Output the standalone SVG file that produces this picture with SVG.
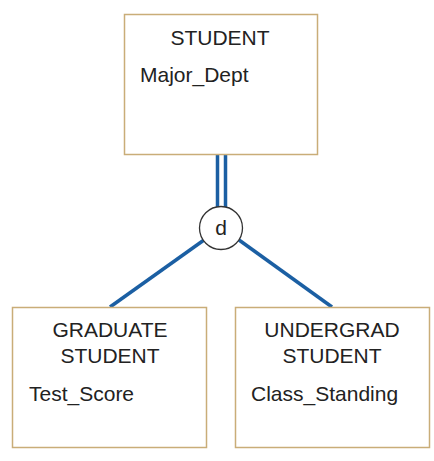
<svg xmlns="http://www.w3.org/2000/svg" width="434" height="461" viewBox="0 0 434 461">
<style>
.box{fill:#fff;stroke:#c9ad78;stroke-width:1.5}
.t{font-family:"Liberation Sans",Arial,sans-serif;font-size:21px;fill:#222}
.c{text-anchor:middle}
.ln{stroke:#1b5fa3;stroke-width:3.5;fill:none}
</style>
<rect width="434" height="461" fill="#fff"/>
<g id="connectors">
<line class="ln" x1="217.5" y1="154" x2="217.5" y2="208"/>
<line class="ln" x1="225.5" y1="154" x2="225.5" y2="208"/>
<line class="ln" x1="204" y1="240" x2="110" y2="307"/>
<line class="ln" x1="239" y1="240" x2="332" y2="307"/>
</g>
<g id="student">
<rect class="box" x="124.5" y="14.5" width="193" height="140"/>
<text class="t c" x="220" y="45">STUDENT</text>
<text class="t" x="140" y="82">Major_Dept</text>
</g>
<g id="disjoint">
<circle cx="221" cy="228" r="21.5" fill="#fff" stroke="#333" stroke-width="1.3"/>
<text class="t c" x="221" y="235">d</text>
</g>
<g id="graduate">
<rect class="box" x="12.5" y="307.5" width="194" height="140"/>
<text class="t c" x="110" y="337">GRADUATE</text>
<text class="t c" x="110" y="363">STUDENT</text>
<text class="t" x="29" y="401">Test_Score</text>
</g>
<g id="undergrad">
<rect class="box" x="235.5" y="307.5" width="194" height="140"/>
<text class="t c" x="332" y="337">UNDERGRAD</text>
<text class="t c" x="332" y="363">STUDENT</text>
<text class="t" x="251" y="401">Class_Standing</text>
</g>
</svg>
